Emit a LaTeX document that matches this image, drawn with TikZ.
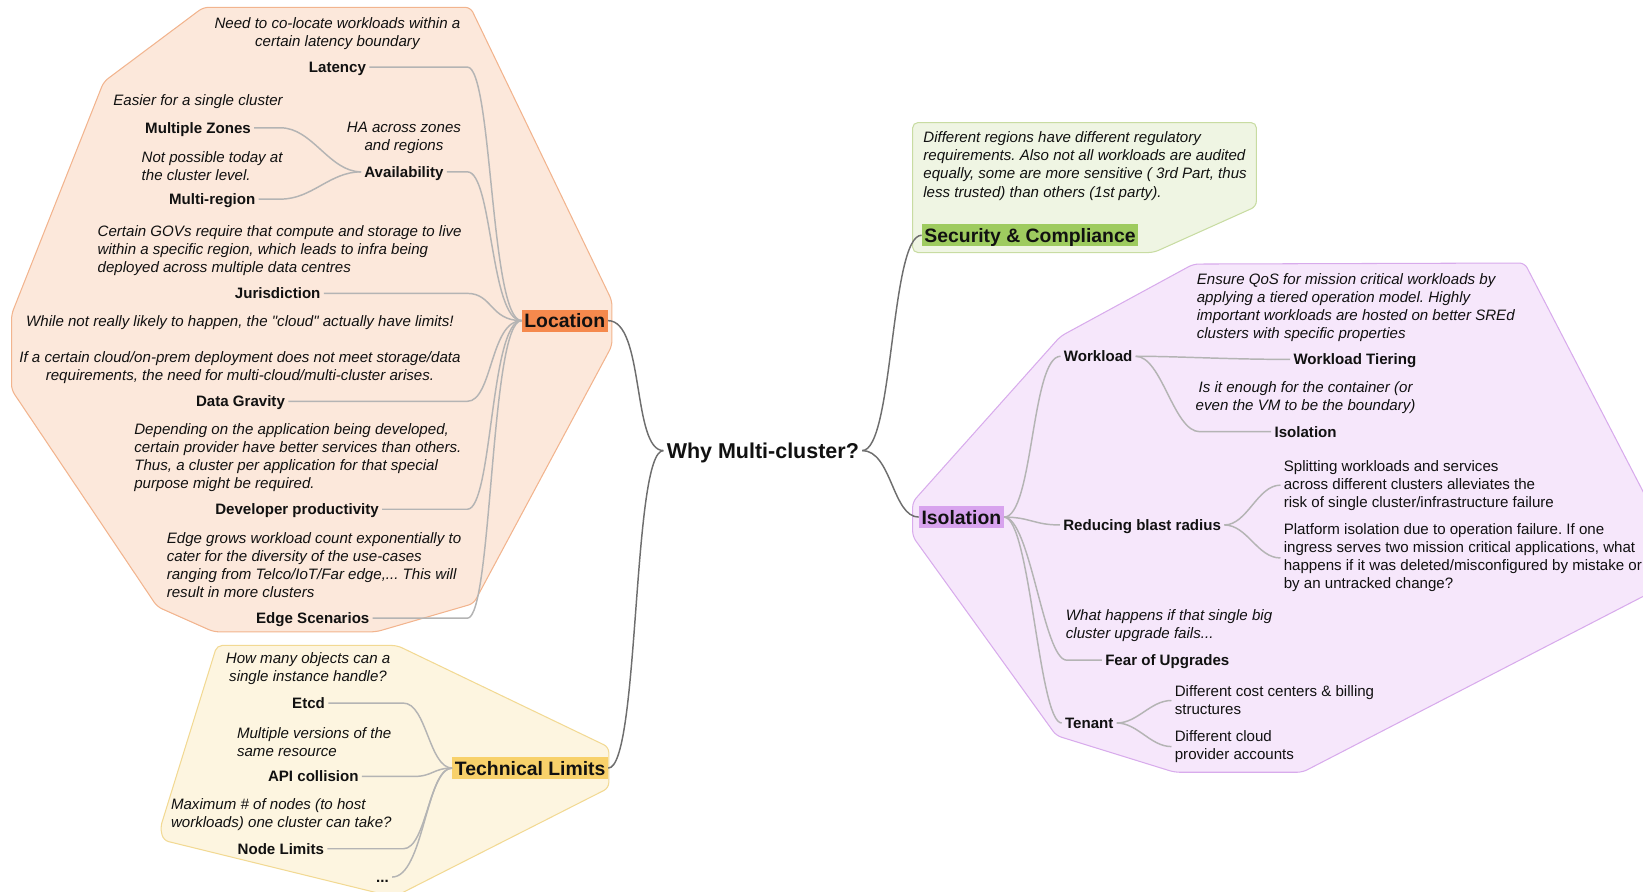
\documentclass[tikz,border=0pt]{standalone}
\usepackage{fontspec}
\setmainfont{Liberation Sans}
\frenchspacing
\definecolor{locfill}{HTML}{FCE8DB}
\definecolor{locline}{HTML}{F2B48E}
\definecolor{locbox}{HTML}{F5894D}
\definecolor{techfill}{HTML}{FDF5E0}
\definecolor{techline}{HTML}{F2D993}
\definecolor{techbox}{HTML}{F8D16A}
\definecolor{secfill}{HTML}{EFF5E3}
\definecolor{secline}{HTML}{C8DCA2}
\definecolor{secbox}{HTML}{9ECB5F}
\definecolor{isofill}{HTML}{F6E7FB}
\definecolor{isoline}{HTML}{D8ABEC}
\definecolor{isobox}{HTML}{D8A3EE}
\definecolor{maingrey}{HTML}{6E6E6E}
\definecolor{subgrey}{HTML}{B4B4B4}
\definecolor{ink}{HTML}{111111}
\begin{document}
\begin{tikzpicture}[x=1pt,y=-1pt,
  desc/.style={font=\fontsize{14.4}{17.2}\selectfont\itshape, text=ink, inner sep=0pt, align=left},
  descc/.style={desc, align=center},
  plain/.style={font=\fontsize{14.4}{17.2}\selectfont, text=ink, inner xsep=3pt, inner ysep=0pt, align=left},
  lbl/.style={font=\fontsize{14.4}{17.2}\selectfont\bfseries, text=ink, inner xsep=3pt, inner ysep=1pt, text height=10.3pt, text depth=0pt},
  cat/.style={font=\fontsize{18.5}{22}\selectfont\bfseries, text=ink, inner xsep=2.5pt, inner ysep=0pt, text height=13.3pt, text depth=0pt, minimum height=21pt},
  rootlbl/.style={font=\fontsize{20.5}{24}\selectfont\bfseries, text=ink, inner xsep=3pt, inner ysep=1pt, text height=14.7pt, text depth=0pt},
  sub/.style={draw=subgrey, line width=1.4pt},
  main/.style={draw=maingrey, line width=1.4pt},
  zone/.style={line width=1pt, rounded corners=5pt}
]
\useasboundingbox (0,0) rectangle (1568,851);
\clip (0,0) rectangle (1568,851);

% ---------- background zones ----------
\filldraw[zone, fill=locfill, draw=locline]
  (194,7) -- (449,7) -- (584,287) -- (584,330) -- (452,576) -- (359,603)
  -- (204,603) -- (150,579) -- (11,372) -- (11,300) -- (99,78) -- cycle;
\filldraw[zone, fill=techfill, draw=techline]
  (207,616) -- (379,616) -- (581,713) -- (581,752) -- (376,856)
  -- (156,802) -- (153,790) -- cycle;
\filldraw[zone, fill=secfill, draw=secline]
  (871,117) -- (1199,117) -- (1199,197) -- (1101,241) -- (871,241) -- cycle;
\filldraw[zone, fill=isofill, draw=isoline]
  (1139,252) -- (1455,251) -- (1582,496) -- (1582,562) -- (1243,737)
  -- (1121,737) -- (1008,702) -- (871,512) -- (871,479) -- (1012,321) -- cycle;

% ---------- root ----------
\node[rootlbl] (root) at (728,430) {Why Multi-cluster?};

% ---------- categories ----------
\node[cat, fill=locbox] (loc) at (539,306) {Location};
\node[cat, fill=techbox] (tl) at (506,733) {Technical Limits};
\node[cat, fill=secbox] (sec) at (983,224.5) {Security \& Compliance};
\node[cat, fill=isobox] (isol) at (917.5,493.5) {Isolation};

% ---------- Location ----------
\node[descc] (latd) at (322,32) {Need to co-locate workloads within a\\certain latency boundary};
\node[lbl] (lat) at (322,64) {Latency};
\node[descc] (mzd) at (189,97) {Easier for a single cluster};
\node[lbl] (mz) at (189,122) {Multiple Zones};
\node[desc, anchor=west] (mrd) at (135,158.5) {Not possible today at\\the cluster level.};
\node[lbl] (mr) at (202.5,190) {Multi-region};
\node[descc] (availd) at (385.5,131.5) {HA across zones\\and regions};
\node[lbl] (avail) at (385.5,164) {Availability};
\node[desc, anchor=west] (jurd) at (93,239) {Certain GOVs require that compute and storage to live\\within a specific region, which leads to infra being\\deployed across multiple data centres};
\node[lbl] (jur) at (265,280) {Jurisdiction};
\node[descc] (dgd) at (229,333.5) {While not really likely to happen, the \textquotedbl cloud\textquotedbl{} actually have limits!\\[17.2pt]If a certain cloud/on-prem deployment does not meet storage/data\\requirements, the need for multi-cloud/multi-cluster arises.};
\node[lbl] (dg) at (229.5,383) {Data Gravity};
\node[desc, anchor=west] (devd) at (128,436.5) {Depending on the application being developed,\\certain provider have better services than others.\\Thus, a cluster per application for that special\\purpose might be required.};
\node[lbl] (dev) at (283.5,486) {Developer productivity};
\node[desc, anchor=west] (edged) at (159,539.5) {Edge grows workload count exponentially to\\cater for the diversity of the use-cases\\ranging from Telco/IoT/Far edge,... This will\\result in more clusters};
\node[lbl] (edgesc) at (298.5,590) {Edge Scenarios};

% ---------- Technical Limits ----------
\node[descc] (etcdd) at (294,638.5) {How many objects can a\\single instance handle?};
\node[lbl] (etcd) at (294.5,671) {Etcd};
\node[desc, anchor=west] (apid) at (226,708.5) {Multiple versions of the\\same resource};
\node[lbl] (api) at (299,741) {API collision};
\node[desc, anchor=west] (nodelimd) at (163,777.5) {Maximum \# of nodes (to host\\workloads) one cluster can take?};
\node[lbl] (nodelim) at (268,810) {Node Limits};
\node[lbl] (dots) at (365,837) {...};

% ---------- Security & Compliance ----------
\node[desc, anchor=west] (secd) at (881,158.5) {Different regions have different regulatory\\requirements. Also not all workloads are audited\\equally, some are more sensitive ( 3rd Part, thus\\less trusted) than others (1st party).};

% ---------- Isolation ----------
\node[lbl] (work) at (1048,340) {Workload};
\node[desc, anchor=west] (wtd) at (1142,293.5) {Ensure QoS for mission critical workloads by\\applying a tiered operation model. Highly\\important workloads are hosted on better SREd\\clusters with specific properties};
\node[lbl] (wt) at (1293,343) {Workload Tiering};
\node[descc] (isocd) at (1246,379.5) {Is it enough for the container (or\\even the VM to be the boundary)};
\node[lbl] (isoc) at (1246,412) {Isolation};
\node[lbl] (brr) at (1090,501) {Reducing blast radius};
\node[plain, anchor=west] (split) at (1222,463) {Splitting workloads and services\\across different clusters alleviates the\\risk of single cluster/infrastructure failure};
\node[plain, anchor=west] (plat) at (1222,532.5) {Platform isolation due to operation failure. If one\\ingress serves two mission critical applications, what\\happens if it was deleted/misconfigured by mistake or\\by an untracked change?};
\node[desc, anchor=west] (feard) at (1017,597) {What happens if that single big\\cluster upgrade fails...};
\node[lbl] (fear) at (1114,630) {Fear of Upgrades};
\node[lbl] (ten) at (1039.5,690) {Tenant};
\node[plain, anchor=west] (cost) at (1118,668.5) {Different cost centers \& billing\\structures};
\node[plain, anchor=west] (cloud) at (1118,712.5) {Different cloud\\provider accounts};

% ---------- connectors: root to categories ----------
\draw[main] (loc.east) to[out=0,in=180,out distance=35pt,in distance=30pt] (root.west);
\draw[main] (tl.east) to[out=0,in=180,out distance=30pt,in distance=30pt] (root.west);
\draw[main] (root.east) to[out=0,in=180,out distance=30pt,in distance=30pt] (sec.west);
\draw[main] (root.east) to[out=0,in=180,out distance=28pt,in distance=25pt] (isol.west);

% ---------- connectors: Location ----------
\coordinate (locturn) at (446,0);
\foreach \n in {lat,avail,jur,dg,dev,edgesc}
  \draw[sub] (\n.east) -- (\n.east -| locturn)
    to[out=0,in=180,out distance=24pt,in distance=30pt] (loc.west);
\coordinate (avturn) at (268,0);
\foreach \n in {mz,mr}
  \draw[sub] (\n.east) -- (\n.east -| avturn)
    to[out=0,in=180,out distance=30pt,in distance=30pt] (avail.west);

% ---------- connectors: Technical Limits ----------
\coordinate (tlturn) at (385,0);
\coordinate (apiturn) at (395,0);
\draw[sub] (etcd.east) -- (etcd.east -| tlturn)
  to[out=0,in=180,out distance=22pt,in distance=22pt] (tl.west);
\draw[sub] (api.east) -- (api.east -| apiturn)
  to[out=0,in=180,out distance=18pt,in distance=18pt] (tl.west);
\draw[sub] (nodelim.east) -- (nodelim.east -| tlturn)
  to[out=0,in=180,out distance=22pt,in distance=22pt] (tl.west);
\draw[sub] (dots.east) to[out=0,in=180,out distance=30pt,in distance=25pt] (tl.west);

% ---------- connectors: Isolation ----------
\draw[sub] (isol.east) to[out=0,in=180,out distance=28pt,in distance=28pt] (work.west);
\draw[sub] (isol.east) to[out=0,in=180,out distance=25pt,in distance=25pt] (brr.west);
\coordinate (fturn) at (1018,0);
\draw[sub] (isol.east) to[out=0,in=180,out distance=25pt,in distance=22pt] (fear.west -| fturn) -- (fear.west);
\draw[sub] (isol.east) to[out=0,in=180,out distance=25pt,in distance=22pt] (ten.west);
\draw[sub] (work.east) to[out=0,in=180,out distance=40pt,in distance=60pt] (wt.west);
\coordinate (iturn) at (1145,0);
\draw[sub] (work.east) to[out=0,in=180,out distance=25pt,in distance=25pt] (isoc.west -| iturn) -- (isoc.west);
\draw[sub] (brr.east) to[out=0,in=180,out distance=22pt,in distance=22pt] (split.west);
\draw[sub] (brr.east) to[out=0,in=180,out distance=22pt,in distance=22pt] (plat.west);
\draw[sub] (ten.east) to[out=0,in=180,out distance=20pt,in distance=20pt] (cost.west);
\draw[sub] (ten.east) to[out=0,in=180,out distance=20pt,in distance=20pt] (cloud.west);
\end{tikzpicture}
\end{document}
